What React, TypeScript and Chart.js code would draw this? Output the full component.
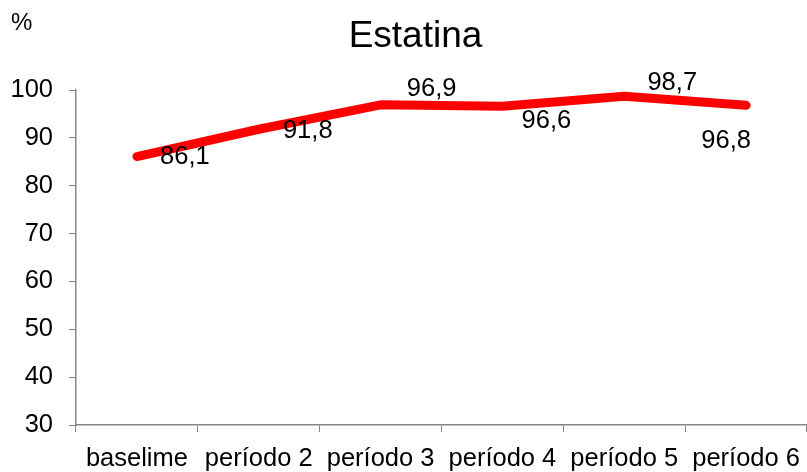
import React, { useEffect, useRef } from "react";
import { Chart, registerables } from "chart.js";

Chart.register(...registerables);

const categories = ["baselime", "período 2", "período 3", "período 4", "período 5", "período 6"];
const values = [86.1, 91.8, 96.9, 96.6, 98.7, 96.8];
const valueLabels = ["86,1", "91,8", "96,9", "96,6", "98,7", "96,8"];
const labelOffsets: [number, number][] = [
  [48, 0],
  [49, 2],
  [51, -16],
  [44, 15],
  [48, -13],
  [-20, 36],
];
const yMin = 30;
const yMax = 100;
const yStep = 10;
const titleText = "Estatina";
const unitText = "%";

const FONT = "'Liberation Sans', Arial, sans-serif";
const AXIS_COLOR = "#868686";

export default function App() {
  const ref = useRef<HTMLCanvasElement>(null);
  useEffect(() => {
    if (!ref.current) return;
    const textPlugin = {
      id: "textPlugin",
      afterDatasetsDraw(chart: any) {
        const ctx = chart.ctx;
        const meta = chart.getDatasetMeta(0);
        ctx.save();
        ctx.fillStyle = "#000";
        ctx.font = `25.5px ${FONT}`;
        ctx.textAlign = "center";
        ctx.textBaseline = "middle";
        meta.data.forEach((pt: any, i: number) => {
          const [dx, dy] = labelOffsets[i];
          ctx.fillText(valueLabels[i], pt.x + dx, pt.y + dy);
        });
        ctx.font = `37px ${FONT}`;
        ctx.textBaseline = "alphabetic";
        ctx.fillText(titleText, 415.5, 47);
        ctx.font = `24px ${FONT}`;
        ctx.textAlign = "left";
        ctx.fillText(unitText, 11, 30);
        ctx.restore();
      },
    };
    const chart = new Chart(ref.current, {
      type: "line",
      data: {
        labels: categories,
        datasets: [
          {
            data: values,
            borderColor: "#FF0000",
            backgroundColor: "#FF0000",
            borderWidth: 9,
            borderCapStyle: "round",
            borderJoinStyle: "round",
            pointRadius: 0,
            pointHoverRadius: 0,
            tension: 0,
            fill: false,
          },
        ],
      },
      options: {
        animation: false,
        responsive: true,
        maintainAspectRatio: false,
        layout: { padding: { top: 90, right: 0, left: 0, bottom: 0 } },
        plugins: {
          legend: { display: false },
          title: { display: false },
          tooltip: { enabled: false },
        },
        scales: {
          x: {
            offset: true,
            grid: {
              offset: true,
              drawOnChartArea: false,
              drawTicks: true,
              tickLength: 7,
              color: AXIS_COLOR,
            },
            border: { color: AXIS_COLOR, width: 1.5 },
            ticks: {
              color: "#000",
              font: { family: FONT, size: 25.5 },
              padding: 12,
              maxRotation: 0,
              autoSkip: false,
            },
            afterFit(scale: any) {
              scale.height = 47;
              scale.paddingLeft = 0;
              scale.paddingRight = 0;
            },
          },
          y: {
            min: yMin,
            max: yMax,
            grid: {
              drawOnChartArea: false,
              drawTicks: true,
              tickLength: 7,
              color: AXIS_COLOR,
            },
            border: { color: AXIS_COLOR, width: 1.5 },
            ticks: {
              stepSize: yStep,
              color: "#000",
              font: { family: FONT, size: 25.5 },
              padding: 16,
            },
            afterFit(scale: any) {
              scale.width = 76;
            },
          },
        },
      },
      plugins: [textPlugin],
    });
    return () => chart.destroy();
  }, []);
  return (
    <div style={{ position: "absolute", left: 0, top: 0, width: 807, height: 472, background: "#fff" }}>
      <canvas ref={ref} />
    </div>
  );
}
